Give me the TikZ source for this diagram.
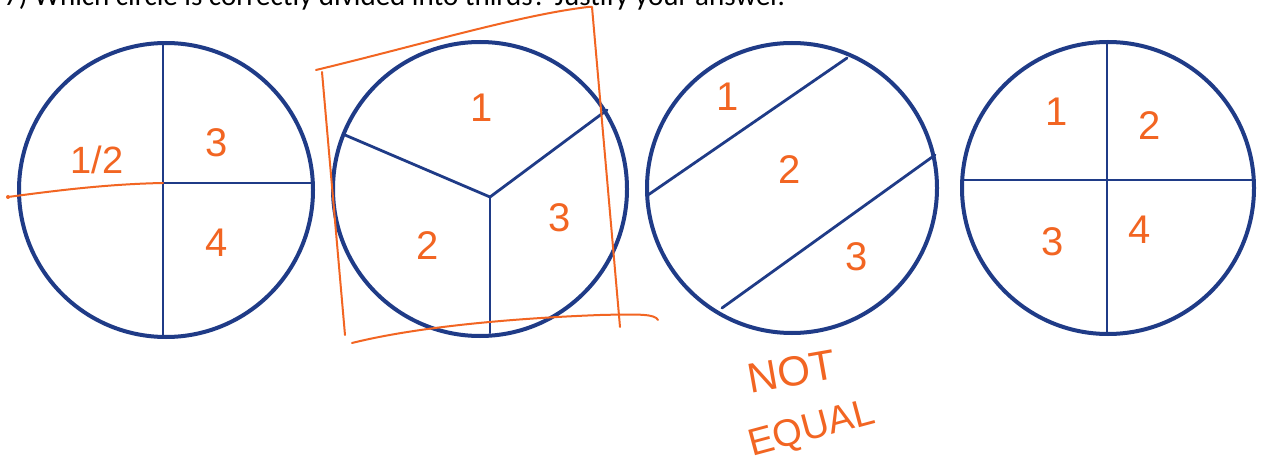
\documentclass[tikz,border=0pt]{standalone}
\usepackage{fontspec}
\setmainfont{Liberation Sans}
\newfontfamily\qfont{Carlito}
\definecolor{penblue}{HTML}{1F3B87}
\definecolor{inkorange}{HTML}{F26522}
\tikzset{
  rim/.style={draw=penblue, line width=4pt},
  cut/.style={draw=penblue, line width=2.8pt, line cap=round},
  ink/.style={draw=inkorange, line width=2pt, line cap=round, line join=round},
  num/.style={text=inkorange, font=\fontsize{40}{40}\selectfont, inner sep=0pt},
  note/.style={text=inkorange, font=\fontsize{42}{42}\selectfont, inner sep=0pt}
}
\begin{document}
\begin{tikzpicture}[x=1pt,y=-1pt]
\useasboundingbox (0,0) rectangle (1261,465);
\clip (0,0) rectangle (1261,465);
\fill[white] (0,0) rectangle (1261,465);
% cropped question line
\node[anchor=base west, inner sep=0pt, font=\qfont\fontsize{29}{29}\selectfont] (q) at (4,6) {7) Which circle is correctly divided into thirds? Justify your answer.};
% circle 1
\coordinate (c1) at (166,190);
\coordinate (c1t) at (163,43);
\coordinate (c1b) at (163,337);
\coordinate (c1m) at (163,183);
\coordinate (c1r) at (313,183);
\draw[cut] (c1t) -- (c1b);
\draw[cut] (c1m) -- (c1r);
\draw[rim] (c1) circle[radius=147];
\node[num] (l13) at (217,143) {3};
\node[num] (l14) at (217,243) {4};
\node[num, font=\fontsize{38}{38}\selectfont] (half) at (97,160) {1/2};
\coordinate (hl) at (8,197);
\draw[ink] (hl) .. controls (60,190) and (110,184) .. (c1m);
\fill[inkorange] (hl) circle[radius=2];
% circle 2
\coordinate (c2) at (480,189);
\coordinate (hub) at (490,197);
\coordinate (s1) at (345,135);
\coordinate (s2) at (607,110);
\coordinate (s3) at (490,333);
\draw[cut] (hub) -- (s1);
\draw[cut] (hub) -- (s2);
\draw[cut] (hub) -- (s3);
\draw[rim] (c2) circle[radius=147];
\node[num] (l21) at (482,108) {1};
\node[num] (l22) at (428,246) {2};
\node[num] (l23) at (560,218) {3};
% orange box
\coordinate (b1) at (316,70);
\coordinate (b2) at (592,7);
\coordinate (b3) at (620,327);
\coordinate (b4) at (322,72);
\coordinate (b5) at (345,335);
\coordinate (b6) at (352,343);
\coordinate (b7) at (658,320);
\draw[ink] (b1) .. controls (420,45) and (520,15) .. (588,7) -- (b2) -- (b3);
\draw[ink] (b4) -- (b5);
\draw[ink] (b6) .. controls (420,326) and (520,318) .. (600,315) .. controls (640,314) and (655,314) .. (b7);
% circle 3
\coordinate (c3) at (792,188);
\coordinate (d1) at (648,195);
\coordinate (d2) at (847,58);
\coordinate (d3) at (722,308);
\coordinate (d4) at (935,155);
\draw[cut] (d1) -- (d2);
\draw[cut] (d3) -- (d4);
\draw[rim] (c3) circle[radius=145];
\node[num] (l31) at (728,97) {1};
\node[num] (l32) at (790,170) {2};
\node[num] (l33) at (857,257) {3};
\node[note, rotate=10] (ne1) at (792,372) {NOT};
\node[note, rotate=15, font=\fontsize{38}{38}\selectfont] (ne2) at (812,430) {EQUAL};
% circle 4
\coordinate (c4) at (1108,188);
\coordinate (e1) at (1107,42);
\coordinate (e2) at (1107,334);
\coordinate (e3) at (962,180);
\coordinate (e4) at (1254,180);
\draw[cut] (e1) -- (e2);
\draw[cut] (e3) -- (e4);
\draw[rim] (c4) circle[radius=146];
\node[num] (l41) at (1057,112) {1};
\node[num] (l42) at (1150,126) {2};
\node[num] (l43) at (1053,242) {3};
\node[num] (l44) at (1140,230) {4};
\end{tikzpicture}
\end{document}
